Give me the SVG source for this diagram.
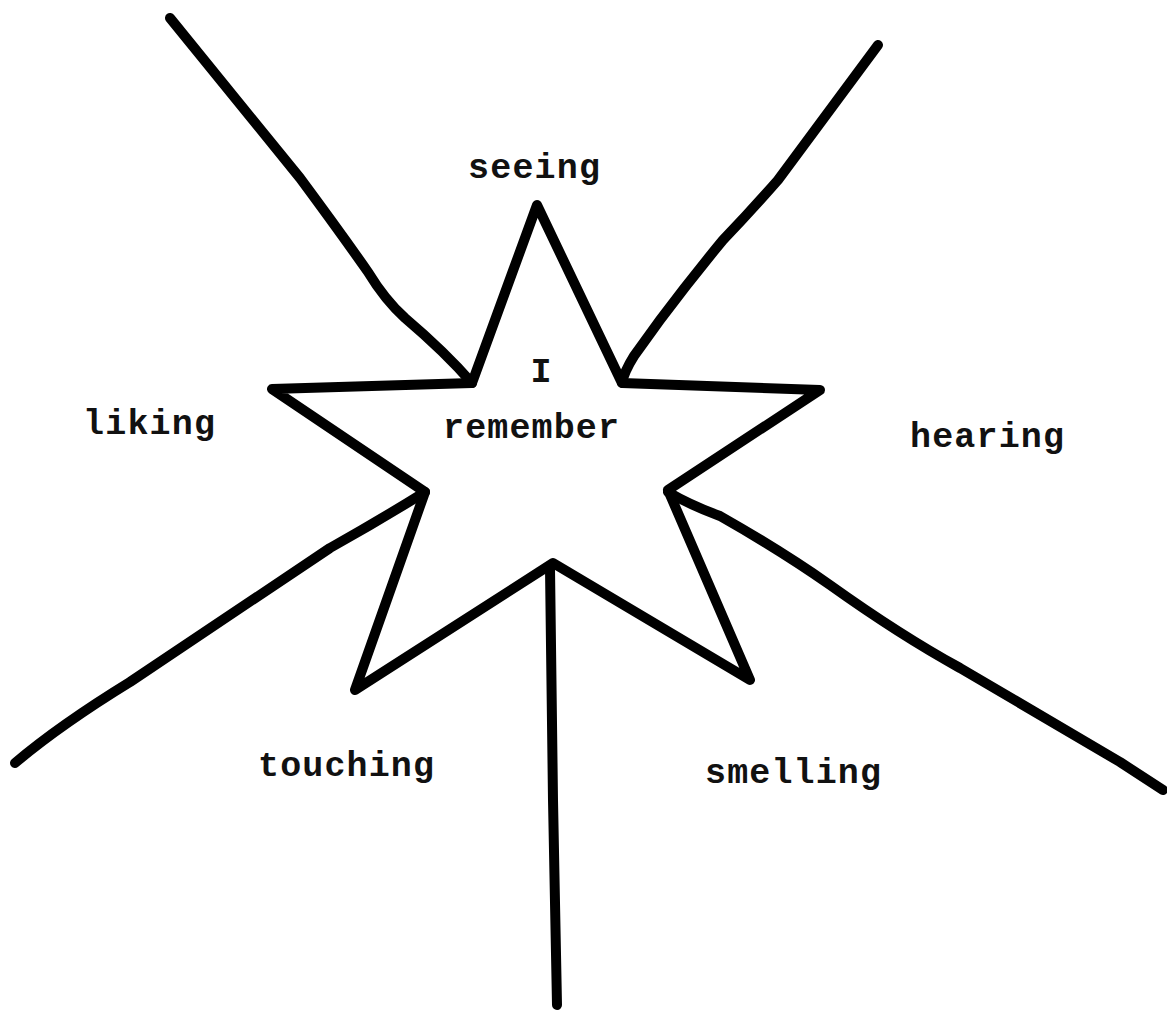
<svg xmlns="http://www.w3.org/2000/svg" width="1167" height="1014" viewBox="0 0 1167 1014">
<style>
.ln{fill:none;stroke:#000;stroke-width:10;stroke-linecap:round;stroke-linejoin:round}
.t{font-family:"Liberation Mono","Courier New",monospace;font-size:35px;font-weight:bold;fill:#111}
</style>
<rect width="1167" height="1014" fill="#fff"/>
<g id="connectors">
<path class="ln" d="M170,18 L300,178 Q340,232 368,272 Q385,300 405,318 Q445,352 472,383"/>
<path class="ln" d="M878,45 L778,180 Q750,212 723,240 Q690,280 660,320 L634,356 Q624,372 622,383"/>
<path class="ln" d="M425,492 Q380,520 330,548 L130,682 Q60,725 15,763"/>
<path class="ln" d="M668,492 Q690,505 720,516 Q780,550 830,585 Q900,635 960,668 L1120,762 L1163,790"/>
<path class="ln" d="M550,568 L553,800 L557,1005"/>
</g>
<g id="star">
<polygon class="ln" points="537,205 622,383 820,390 668,490 750,680 553,563 355,690 425,492 272,389 472,383"/>
<text class="t" x="541" y="382" text-anchor="middle">I</text>
<text class="t" x="443" y="438" textLength="176" lengthAdjust="spacing">remember</text>
</g>
<g id="seeing"><text class="t" x="468" y="178" textLength="132" lengthAdjust="spacing">seeing</text></g>
<g id="liking"><text class="t" x="83" y="434" textLength="132" lengthAdjust="spacing">liking</text></g>
<g id="hearing"><text class="t" x="910" y="447" textLength="154" lengthAdjust="spacing">hearing</text></g>
<g id="touching"><text class="t" x="258" y="776" textLength="176" lengthAdjust="spacing">touching</text></g>
<g id="smelling"><text class="t" x="705" y="783" textLength="176" lengthAdjust="spacing">smelling</text></g>
</svg>
